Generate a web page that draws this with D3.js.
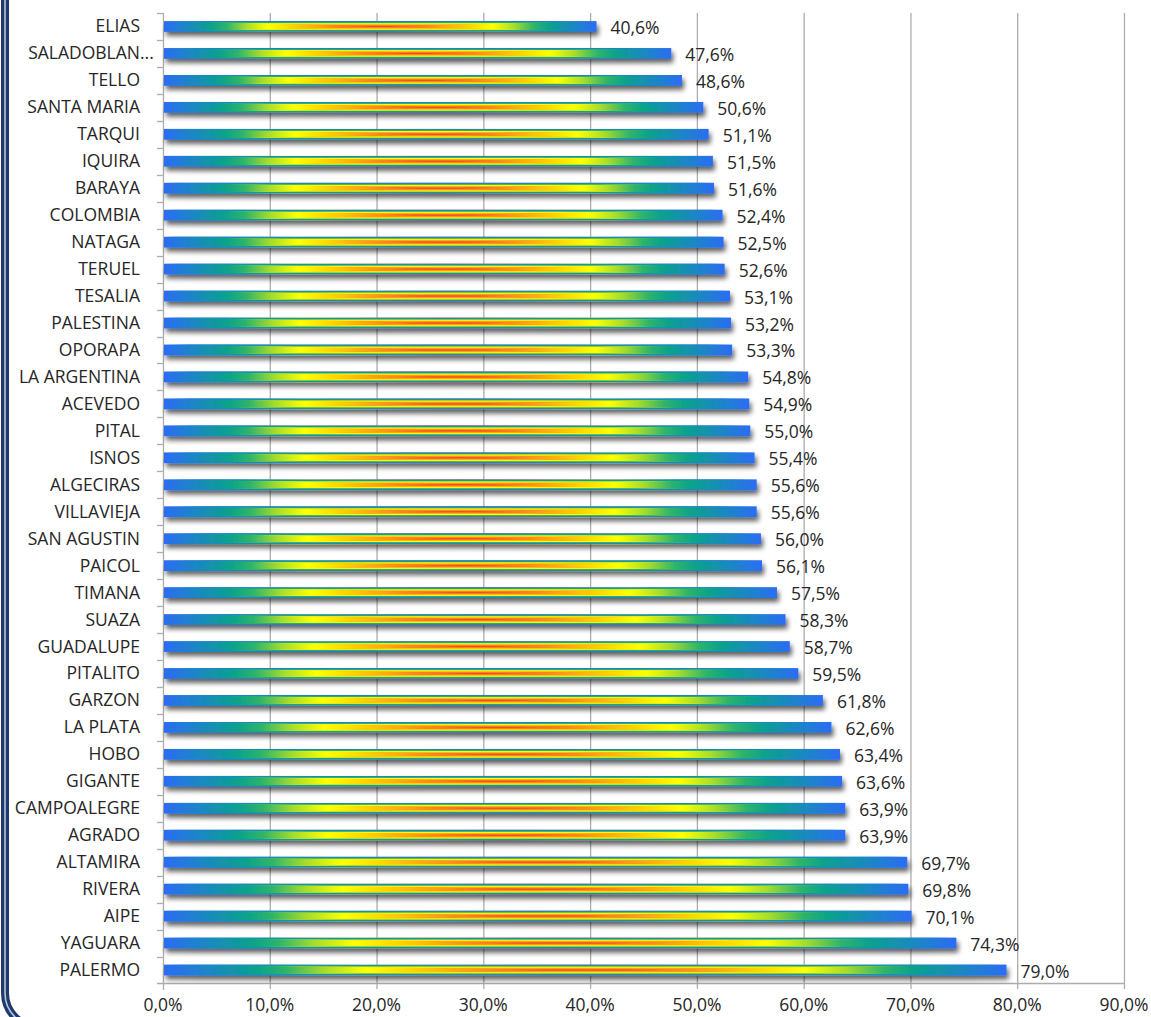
<!DOCTYPE html>
<html><head><meta charset="utf-8">
<script src="https://cdn.jsdelivr.net/npm/d3@7/dist/d3.min.js"></script>
<style>html,body{margin:0;padding:0;background:#fff;}svg{display:block;}</style>
</head><body>
<script>
const categories = ["ELIAS","SALADOBLAN...","TELLO","SANTA MARIA","TARQUI","IQUIRA","BARAYA","COLOMBIA","NATAGA","TERUEL","TESALIA","PALESTINA","OPORAPA","LA ARGENTINA","ACEVEDO","PITAL","ISNOS","ALGECIRAS","VILLAVIEJA","SAN AGUSTIN","PAICOL","TIMANA","SUAZA","GUADALUPE","PITALITO","GARZON","LA PLATA","HOBO","GIGANTE","CAMPOALEGRE","AGRADO","ALTAMIRA","RIVERA","AIPE","YAGUARA","PALERMO"];
const values = [40.6,47.6,48.6,50.6,51.1,51.5,51.6,52.4,52.5,52.6,53.1,53.2,53.3,54.8,54.9,55.0,55.4,55.6,55.6,56.0,56.1,57.5,58.3,58.7,59.5,61.8,62.6,63.4,63.6,63.9,63.9,69.7,69.8,70.1,74.3,79.0];
const xTicks = [0,10,20,30,40,50,60,70,80,90];
// gradient stops: t = 0 centre, 1 edge
const gradStops = [[0,"#f0462c"],[0.22,"#ff8a1e"],[0.42,"#ffd800"],[0.52,"#ffff00"],[0.62,"#a6dc2c"],[0.71,"#2fb46a"],[0.78,"#0aa28c"],[0.9,"#1c86c6"],[1,"#2c6cf4"]];

const W = 1151, H = 1017;
const fmt = v => v.toFixed(1).replace(".", ",") + "%";
const FONT = "'Open Sans', sans-serif";

const svg = d3.select("body").append("svg").attr("width", W).attr("height", H);
const defs = svg.append("defs");

const gh = defs.append("linearGradient").attr("id","gh").attr("x1",0).attr("x2",1).attr("y1",0).attr("y2",0);
const hs = [];
gradStops.forEach(([t,c]) => hs.push([(1 - t)/2, c]));
gradStops.forEach(([t,c]) => hs.push([(1 + t)/2, c]));
hs.sort((a,b)=>a[0]-b[0]).forEach(([o,c]) => gh.append("stop").attr("offset",o).attr("stop-color",c));
const gt = defs.append("linearGradient").attr("id","gt").attr("x1",0).attr("x2",0).attr("y1",0).attr("y2",1);
gradStops.slice().reverse().forEach(([t,c]) => gt.append("stop").attr("offset",1-t).attr("stop-color",c));
const gb = defs.append("linearGradient").attr("id","gb").attr("x1",0).attr("x2",0).attr("y1",0).attr("y2",1);
gradStops.forEach(([t,c]) => gb.append("stop").attr("offset",t).attr("stop-color",c));

const f = defs.append("filter").attr("id","sh").attr("x","-5%").attr("y","-100%").attr("width","110%").attr("height","300%");
f.append("feGaussianBlur").attr("in","SourceAlpha").attr("stdDeviation",2.4).attr("result","b");
f.append("feOffset").attr("in","b").attr("dx",2).attr("dy",4).attr("result","o");
f.append("feComponentTransfer").attr("in","o").attr("result","s")
  .append("feFuncA").attr("type","linear").attr("slope",0.62);
const fm = f.append("feMerge");
fm.append("feMergeNode").attr("in","s");
fm.append("feMergeNode").attr("in","SourceGraphic");

svg.append("rect").attr("x",5).attr("y",-60).attr("width",1300).attr("height",1087).attr("rx",34)
  .attr("fill","none").attr("stroke","#1f3a6c").attr("stroke-width",8);
svg.append("rect").attr("x",5).attr("y",-60).attr("width",1300).attr("height",1087).attr("rx",34)
  .attr("fill","none").attr("stroke","#b9c5dc").attr("stroke-width",1.6);

const x = d3.scaleLinear().domain([0, 90]).range([163, 1124]);
const y = d3.scaleBand().domain(categories).range([13, 983.5]).paddingInner(0.6).paddingOuter(0.3);
const step = y.step();

const grid = "#acacac";
svg.append("g").selectAll("line").data(xTicks.filter(d=>d>0)).join("line")
  .attr("x1", d=>x(d)+0.5).attr("x2", d=>x(d)+0.5).attr("y1", 13).attr("y2", 989)
  .attr("stroke", grid).attr("stroke-width", 1.3);
svg.append("line").attr("x1", x(0)-6).attr("x2", x(90)+0.5).attr("y1", 983.5).attr("y2", 983.5).attr("stroke", grid).attr("stroke-width",1.3);
svg.append("line").attr("x1", x(0)+0.5).attr("x2", x(0)+0.5).attr("y1", 983.5).attr("y2", 990).attr("stroke", grid).attr("stroke-width",1.3);
svg.append("line").attr("x1", x(0)+0.5).attr("x2", x(0)+0.5).attr("y1", 13).attr("y2", 983.5).attr("stroke", grid).attr("stroke-width",1.3);
const bounds = categories.map(c => y(c) - (step - y.bandwidth())/2);
svg.append("g").selectAll("line").data(bounds).join("line")
  .attr("x1", x(0)-6).attr("x2", x(0)).attr("y1", d=>Math.round(d)+0.5).attr("y2", d=>Math.round(d)+0.5)
  .attr("stroke", grid).attr("stroke-width",1.3);

svg.append("g").selectAll("text").data(xTicks).join("text")
  .attr("x", d=>x(d)).attr("y", 1011).attr("text-anchor","middle")
  .attr("font-family", FONT).attr("font-size", 17.5).attr("fill","#262626").text(fmt);

const data = categories.map((c,i)=>({c, v: values[i]}));
const bars = svg.append("g").selectAll("g").data(data).join("g").attr("filter","url(#sh)");
bars.each(function(d){
  const g = d3.select(this);
  const x0 = x(0)+1, x1 = x(d.v), y0 = y(d.c), h = y.bandwidth(), y1 = y0 + h, cx = (x0+x1)/2, cy = y0 + h/2;
  g.append("rect").attr("x", x0).attr("y", y0).attr("width", x1-x0).attr("height", h).attr("fill","url(#gh)");
  g.append("polygon").attr("points", `${x0},${y0} ${x1},${y0} ${cx},${cy}`).attr("fill","url(#gt)");
  g.append("polygon").attr("points", `${x0},${y1} ${x1},${y1} ${cx},${cy}`).attr("fill","url(#gb)");
});

svg.append("g").selectAll("text").data(data).join("text")
  .attr("x", d=>x(d.v)+14).attr("y", d=>y(d.c)+y.bandwidth()/2+7.5)
  .attr("font-family", FONT).attr("font-size", 17.5).attr("fill","#262626").text(d=>fmt(d.v));

const cl = svg.append("g").selectAll("g").data(data).join("g");
cl.each(function(d){
  const g = d3.select(this);
  const base = y(d.c)+y.bandwidth()/2+6;
  const trunc = d.c.endsWith("...");
  const main = trunc ? d.c.slice(0,-3) : d.c;
  g.append("text").attr("x", 140).attr("y", base).attr("text-anchor","end")
    .attr("font-family", FONT).attr("font-size", 17.5).attr("fill","#262626").text(main);
  if (trunc) g.append("text").attr("x", 140).attr("y", base)
    .attr("font-family", FONT).attr("font-size", 17.5).attr("fill","#262626").text("...");
});
</script>
</body></html>
